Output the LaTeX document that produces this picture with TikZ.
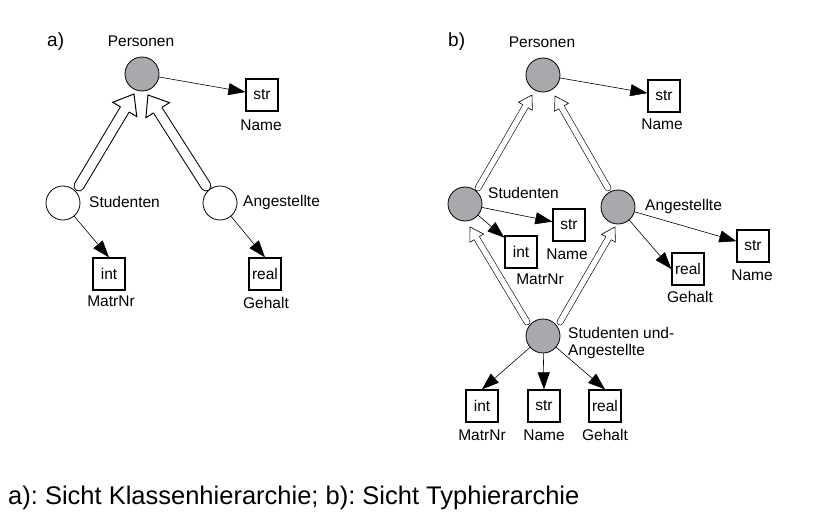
\documentclass[tikz,border=0pt]{standalone}
\usepackage{fontspec}
\setmainfont{Liberation Sans}
\usetikzlibrary{arrows.meta,calc}
\definecolor{nodegray}{HTML}{A7A9AC}
\frenchspacing
\tikzset{
  cls/.style={circle, draw, line width=0.8pt, minimum size=34pt, inner sep=0pt},
  clsg/.style={cls, fill=nodegray},
  clsw/.style={cls, fill=white},
  typ/.style={draw, line width=1.3pt, minimum width=32pt, minimum height=32pt, inner sep=0pt,
    font=\fontsize{15.5}{18}\selectfont},
  lbl/.style={inner sep=0pt, font=\fontsize{15.5}{18}\selectfont, text height=0.72em, text depth=0pt},
  panel/.style={inner sep=0pt, font=\fontsize{19}{22}\selectfont, text height=0.72em, text depth=0pt, anchor=west},
  attr/.style={-{Triangle[length=17pt,width=12pt]}, line width=0.6pt},
}
\newcommand\harrow[6]{%
  \coordinate (hb) at ($(#2)!#5!(#1)$);
  \coordinate (hs1) at ($(hb)!#3!90:(#2)$);
  \coordinate (hs2) at ($(hb)!#3!-90:(#2)$);
  \coordinate (hh1) at ($(hb)!#4!90:(#2)$);
  \coordinate (hh2) at ($(hb)!#4!-90:(#2)$);
  \draw[line width=2*#3+#6, line cap=round] (#1) -- (hb);
  \draw[white, line width=2*#3-#6, line cap=round] (#1) -- (hb);
  \fill[white] (hh1) -- (#2) -- (hh2) -- cycle;
  \draw[line width=#6, line join=miter] (hs1) -- (hh1) -- (#2) -- (hh2) -- (hs2);
}
\begin{document}
\begin{tikzpicture}[x=1pt,y=-1pt]
\useasboundingbox[fill=white] (0,0) rectangle (815,527);

% hollow (inheritance) arrows
\coordinate (a1s) at (79,186);  \coordinate (a1t) at (134,94);
\coordinate (a2s) at (206,186); \coordinate (a2t) at (148,95);
\coordinate (b1s) at (478,188); \coordinate (b1t) at (532,95);
\coordinate (b2s) at (608,188); \coordinate (b2t) at (555,96);
\coordinate (b3s) at (527,322); \coordinate (b3t) at (470,227);
\coordinate (b4s) at (560,322); \coordinate (b4t) at (615,227);
\harrow{a1s}{a1t}{5pt}{14pt}{18pt}{1pt}
\harrow{a2s}{a2t}{5pt}{14pt}{18pt}{1pt}
\harrow{b1s}{b1t}{3pt}{8pt}{13pt}{0.6pt}
\harrow{b2s}{b2t}{3pt}{8pt}{13pt}{0.6pt}
\harrow{b3s}{b3t}{3pt}{8pt}{13pt}{0.6pt}
\harrow{b4s}{b4t}{3pt}{8pt}{13pt}{0.6pt}

% ---------- a) ----------
\node[panel] (pa) at (47,43) {a)};
\node[clsg] (persa) at (142,74) {};
\node[lbl] (persaL) at (141,43) {Personen};
\node[typ] (stra) at (262,95) {str};
\node[lbl] (straL) at (261,127) {Name};
\node[clsw] (studa) at (63,203) {};
\node[lbl, anchor=west] (studaL) at (89,204) {Studenten};
\node[clsw] (angea) at (220,203) {};
\node[lbl, anchor=west] (angeaL) at (243,203) {Angestellte};
\node[typ] (inta) at (109,274) {int};
\node[lbl] (intaL) at (111,303) {MatrNr};
\node[typ] (reala) at (265,274) {real};
\node[lbl] (realaL) at (266,305) {Gehalt};

\draw[attr] (persa) -- (stra);
\draw[attr] (studa) -- (inta.north);
\draw[attr] (angea) -- (reala.north);

% ---------- b) ----------
\node[panel] (pb) at (448,43) {b)};
\node[clsg] (persb) at (543,75) {};
\node[lbl] (persbL) at (542,44) {Personen};
\node[typ] (strb) at (664,96) {str};
\node[lbl] (strbL) at (662,126) {Name};
\node[clsg] (studb) at (465,204) {};
\node[lbl, anchor=west] (studbL) at (488,195) {Studenten};
\node[typ] (strs) at (569,225) {str};
\node[lbl] (strsL) at (567,256) {Name};
\node[typ] (ints) at (521,252) {int};
\node[lbl] (intsL) at (540,281) {MatrNr};
\node[clsg] (angeb) at (618,207) {};
\node[lbl, anchor=west] (angebL) at (645,207) {Angestellte};
\node[typ] (reals) at (688,269) {real};
\node[lbl] (realsL) at (690,299) {Gehalt};
\node[typ] (strg) at (753,246) {str};
\node[lbl] (strgL) at (752,277) {Name};
\node[clsg] (suab) at (543,336) {};
\node[inner sep=0pt, font=\fontsize{15.5}{17}\selectfont, align=left, anchor=north west] (suabL) at (568,327.5) {Studenten und-\\Angestellte};
\node[typ] (intu) at (482,406) {int};
\node[lbl] (intuL) at (482,437) {MatrNr};
\node[typ] (stru) at (544,406) {str};
\node[lbl] (struL) at (544,437) {Name};
\node[typ] (realu) at (605,406) {real};
\node[lbl] (realuL) at (605,437) {Gehalt};

\draw[attr] (persb) -- (strb);
\draw[attr] (studb) -- (strs);
\draw[attr] (studb) -- (ints);
\draw[attr] (angeb) -- (reals.west);
\draw[attr] (angeb) -- (strg);
\draw[attr] (suab) -- (intu.north);
\draw[attr] (suab) -- (stru.north);
\draw[attr] (suab) -- (realu.north);

% caption
\node[inner sep=0pt, font=\fontsize{25.5}{30}\selectfont, text height=0.72em, text depth=0pt, anchor=west] (cap) at (8,500.5) {a): Sicht Klassenhierarchie; b): Sicht Typhierarchie};
\end{tikzpicture}
\end{document}
